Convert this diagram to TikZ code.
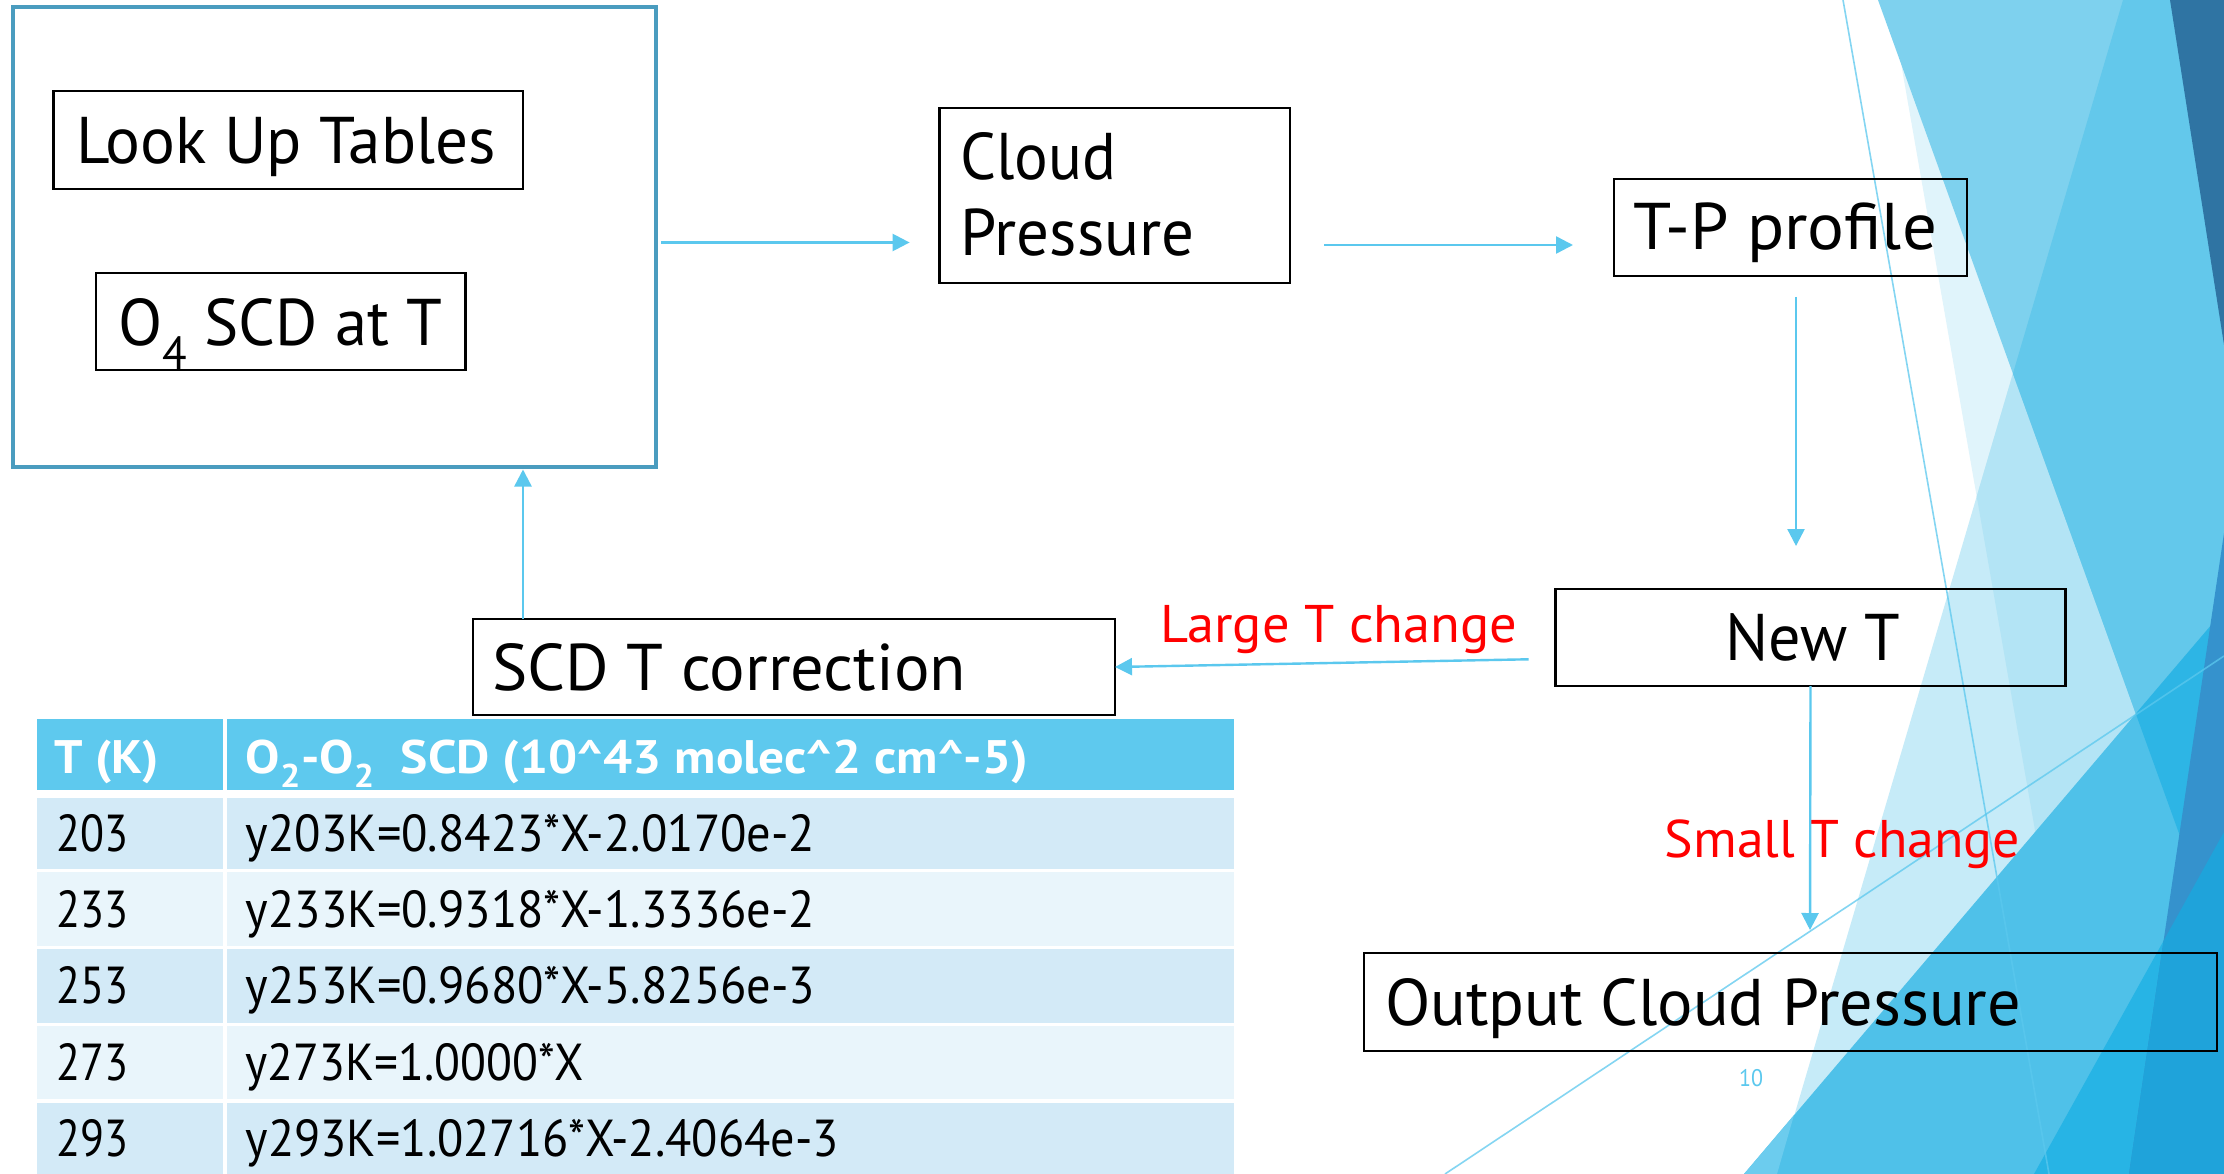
\documentclass[tikz,border=0pt]{standalone}
\usepackage{fontspec}
\setmainfont{PT Sans}
\usepackage{graphicx}
\usetikzlibrary{arrows.meta,calc}

\definecolor{fSii}{HTML}{E0F4FB}
\definecolor{fSiii}{HTML}{C6EBF8}
\definecolor{fSiiiii}{HTML}{B3E4F5}
\definecolor{fSi}{HTML}{7ED1EE}
\definecolor{fSiiii}{HTML}{63C8EB}
\definecolor{fSiv}{HTML}{2F74A3}
\definecolor{fSv}{HTML}{4FC1E9}
\definecolor{fSvl}{HTML}{6CCCEE}
\definecolor{fSiv5}{HTML}{2DB5E5}
\definecolor{fSviii}{HTML}{27B4E5}
\definecolor{fSvii}{HTML}{3592CD}
\definecolor{fSvv}{HTML}{1FA3DA}
\definecolor{outerc}{HTML}{4A9CBF}
\definecolor{arrc}{HTML}{5BC8EE}
\definecolor{hdrc}{HTML}{5EC9EE}
\definecolor{rowa}{HTML}{D3EAF7}
\definecolor{rowb}{HTML}{E9F5FB}

\newlength\fitlen
\newcommand\fitto[2]{\settowidth{\fitlen}{#2}\pgfmathsetmacro\fitsx{#1/\fitlen}\scalebox{\fitsx}[1]{#2}}

\begin{document}
\begin{tikzpicture}[x=1pt,y=-1pt,
  box/.style={draw=black, line width=2.8pt, outer sep=0pt, inner sep=0pt, rectangle},
  boxtxt/.style={font=\fontsize{66}{79}\selectfont, inner sep=0pt, outer sep=0pt, anchor=base west},
  lbl/.style={font=\fontsize{53}{64}\selectfont, text=red, inner sep=0pt, anchor=base west},
  tabtxt/.style={font=\fontsize{52}{62}\selectfont, inner sep=0pt, anchor=base west},
  tabhdr/.style={font=\bfseries\fontsize{47}{56}\selectfont, text=white, inner sep=0pt, anchor=base west},
  arr/.style={draw=arrc, line width=2.4pt, -{Triangle[length=17pt,width=17pt]}},
  deco/.style={draw=arrc, draw opacity=0.75, line width=1.6pt}]
\useasboundingbox (0,0) rectangle (2224,1174);
\fill[white] (0,0) rectangle (2224,1174);

% background facets
\fill[fSii] (1890,0)--(2224,0)--(2224,1174)--(2095,1174)--cycle;
\fill[fSiii] (2123,0)--(2224,0)--(2224,1174)--(1777,1174)--cycle;
\begin{scope}
  \clip (1890,0)--(2224,0)--(2224,1174)--(2095,1174)--cycle;
  \fill[fSiiiii] (2123,0)--(2224,0)--(2224,1174)--(1777,1174)--cycle;
\end{scope}
\fill[fSi] (1878,0)--(2224,0)--(2224,958)--cycle;
\begin{scope}
  \clip (1878,0)--(2224,0)--(2224,958)--cycle;
  \fill[fSiiii] (2123,0)--(2224,0)--(2224,1174)--(1777,1174)--cycle;
\end{scope}
\fill[fSiv] (2170,0)--(2224,0)--(2224,345)--cycle;
\fill[fSv] (1744,1174)--(2224,610)--(2224,1174)--cycle;
\fill[fSvl] (1744,1174)--(1794,1115)--(1777,1174)--cycle;
\begin{scope}
  \clip (1878,0)--(2224,0)--(2224,958)--cycle;
  \fill[fSiv5] (1744,1174)--(2224,610)--(2224,1174)--cycle;
\end{scope}
\fill[fSviii] (2034,1174)--(2224,832)--(2224,1174)--cycle;
\fill[fSvii] (2224,533)--(2224,1174)--(2129,1174)--cycle;
\begin{scope}
  \clip (2034,1174)--(2224,832)--(2224,1174)--cycle;
  \fill[fSvv] (2224,533)--(2224,1174)--(2129,1174)--cycle;
\end{scope}
\draw[deco] (1843,0) -- (2049,1174);
\draw[deco] (1445,1174) -- (2224,656);

% table
\fill[hdrc] (36.7,719) rectangle (223,790);
\fill[hdrc] (227,719) rectangle (1234,790);
\fill[rowa] (36.7,798) rectangle (223,869);
\fill[rowa] (227,798) rectangle (1234,869);
\fill[rowb] (36.7,872) rectangle (223,946);
\fill[rowb] (227,872) rectangle (1234,946);
\fill[rowa] (36.7,949) rectangle (223,1023);
\fill[rowa] (227,949) rectangle (1234,1023);
\fill[rowb] (36.7,1026) rectangle (223,1099);
\fill[rowb] (227,1026) rectangle (1234,1099);
\fill[rowa] (36.7,1103) rectangle (223,1174);
\fill[rowa] (227,1103) rectangle (1234,1174);

\node[tabhdr] (h1) at (54,773) {\fitto{105}{T (K)}};
\node[tabhdr] (h2) at (245.5,773) {\fitto{782.5}{O\textsubscript{2}-O\textsubscript{2}\ \ SCD (10\textasciicircum 43 molec\textasciicircum 2 cm\textasciicircum -5)}};
\node[tabtxt] (t1) at (55.8,851.7) {\fitto{72}{203}};
\node[tabtxt] (e1) at (245.5,851.7) {\fitto{569.5}{y203K=0.8423*X-2.0170e-2}};
\node[tabtxt] (t2) at (55.8,927.7) {\fitto{72}{233}};
\node[tabtxt] (e2) at (245.5,927.7) {\fitto{569.5}{y233K=0.9318*X-1.3336e-2}};
\node[tabtxt] (t3) at (55.8,1003.5) {\fitto{72}{253}};
\node[tabtxt] (e3) at (245.5,1003.5) {\fitto{569.5}{y253K=0.9680*X-5.8256e-3}};
\node[tabtxt] (t4) at (55.8,1080) {\fitto{72}{273}};
\node[tabtxt] (e4) at (245.5,1080) {\fitto{338.5}{y273K=1.0000*X}};
\node[tabtxt] (t5) at (55.8,1156.7) {\fitto{72}{293}};
\node[tabtxt] (e5) at (245.5,1156.7) {\fitto{593}{y293K=1.02716*X-2.4064e-3}};

% boxes
\node[box, draw=outerc, line width=4pt, minimum width=643.5pt, minimum height=460pt] (outer) at (334.25,237) {};
\node[box, minimum width=469.4pt, minimum height=98pt] (lut) at (288.3,140) {};
\node[box, minimum width=369.6pt, minimum height=97pt] (o4) at (280.8,321.5) {};
\node[box, minimum width=350.5pt, minimum height=175pt] (cloud) at (1114.75,195.5) {};
\node[box, minimum width=353pt, minimum height=97pt] (tp) at (1790.5,227.5) {};
\node[box, minimum width=510pt, minimum height=97pt] (newt) at (1810.5,637.5) {};
\node[box, minimum width=642pt, minimum height=96pt] (scd) at (794,667) {};
\node[box, minimum width=853pt, minimum height=98pt] (output) at (1790.5,1002) {};

% box texts
\node[boxtxt] (lutt) at (76,164) {\fitto{420}{Look Up Tables}};
\node[boxtxt] (o4t) at (118,345) {\fitto{324}{O\textsubscript{4} SCD at T}};
\node[boxtxt] (cloudt1) at (960.6,180) {\fitto{156}{Cloud}};
\node[boxtxt] (cloudt2) at (960.6,256) {\fitto{234}{Pressure}};
\node[boxtxt] (tpt) at (1633,250) {\fitto{304}{T-P profile}};
\node[boxtxt] (newtt) at (1725,660) {\fitto{175}{New T}};
\node[boxtxt] (scdt) at (492,690) {\fitto{474}{SCD T correction}};
\node[boxtxt] (outt) at (1385,1025) {\fitto{636}{Output Cloud Pressure}};

% labels
\node[lbl] (large) at (1160,642.5) {\fitto{357}{Large T change}};
\node[lbl] (small) at (1664.5,857) {\fitto{355.5}{Small T change}};
\node[font=\fontsize{24}{29}\selectfont, text=arrc, inner sep=0pt, anchor=base west] (pg) at (1739,1086) {\fitto{24}{10}};

% connectors
\draw[arr] ([shift={(5,5.5)}]outer.east) -- ([shift={(-29.9,47)}]cloud.west);
\draw[arr] ([shift={(34,49.5)}]cloud.east) -- ([shift={(-41,17.5)}]tp.west);
\draw[arr] ([shift={(5.5,21)}]tp.south) -- ([shift={(-14.5,-43)}]newt.north);
\draw[arr] ([shift={(-27,21.8)}]newt.west) -- (scd.east);
\draw[arr] (newt.south) -- ([shift={(19.5,-23)}]output.north);
\draw[arr] (scd.north -| lut.east) -- ([yshift=-2.5pt]outer.south -| lut.east);
\end{tikzpicture}
\end{document}
